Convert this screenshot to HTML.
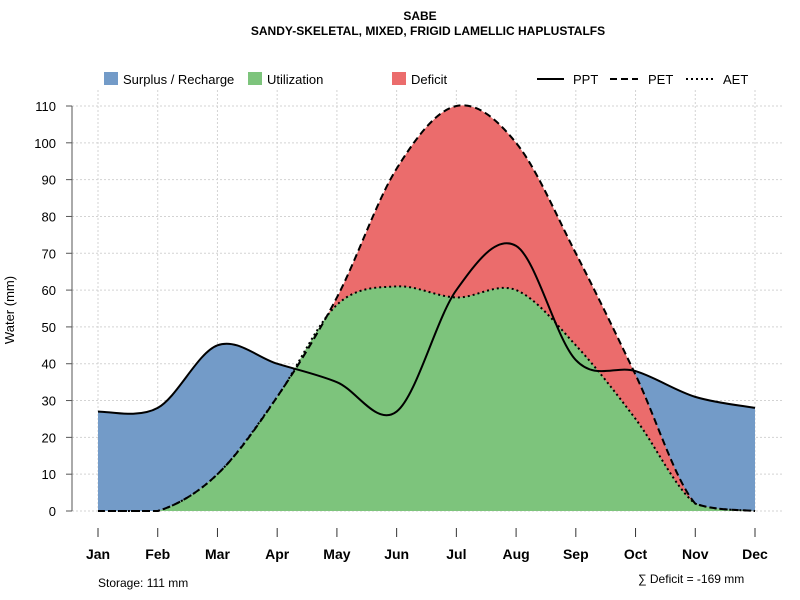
<!DOCTYPE html>
<html><head><meta charset="utf-8"><style>
body{margin:0;background:#fff}svg{display:block;font-family:"Liberation Sans",sans-serif}
</style></head><body>
<svg id="c" width="800" height="600">
<text x="420" y="20" text-anchor="middle" font-size="12" font-weight="bold">SABE</text>
<text x="428" y="35" text-anchor="middle" font-size="12" font-weight="bold">SANDY-SKELETAL, MIXED, FRIGID LAMELLIC HAPLUSTALFS</text>
<g id="grid"></g>
<g id="areas"></g>
<g id="lines"></g>
<g id="axes"></g>
<g font-size="13">
<rect x="104" y="72" width="14" height="13" fill="#739bc8"/>
<text x="123" y="84">Surplus / Recharge</text>
<rect x="248" y="72" width="14" height="13" fill="#7dc47c"/>
<text x="267" y="84">Utilization</text>
<rect x="392" y="72" width="14" height="13" fill="#eb6c6c"/>
<text x="411" y="84">Deficit</text>
<line x1="537" y1="79" x2="564" y2="79" stroke="#000" stroke-width="2"/>
<text x="573" y="84">PPT</text>
<line x1="610" y1="79" x2="638" y2="79" stroke="#000" stroke-width="2" stroke-dasharray="7,4"/>
<text x="648" y="84">PET</text>
<line x1="686" y1="79" x2="714" y2="79" stroke="#000" stroke-width="2" stroke-dasharray="2,3"/>
<text x="723" y="84">AET</text>
</g>
<text x="14" y="310" transform="rotate(-90 14 310)" text-anchor="middle" font-size="13">Water (mm)</text>
<text x="98" y="587" font-size="12">Storage: 111 mm</text>
<text x="638" y="583" font-size="12">∑ Deficit = -169 mm</text>
</svg>
<script>
const months=["Jan","Feb","Mar","Apr","May","Jun","Jul","Aug","Sep","Oct","Nov","Dec"];
const ppt=[27,28,45,40,35,27,60,72,41,38,31,28];
const pet=[0,0,10,31,58,93,110,100,70,37,2,0];
const aet=[0,0,10,31,56,61,58,60,45,25,2,0];
const yTicks=[0,10,20,30,40,50,60,70,80,90,100,110];
const NS="http://www.w3.org/2000/svg";
const X=i=>98+i*(755-98)/11, Y=v=>511-v*(511-106)/110;
function el(p,t,a){const e=document.createElementNS(NS,t);for(const k in a)e.setAttribute(k,a[k]);p.appendChild(e);return e;}
function path(vals){const p=vals.map((v,i)=>[X(i),Y(v)]);const b=Y(0);let d="M"+p[0];for(let i=0;i<p.length-1;i++){const p0=p[i-1]||p[i],p1=p[i],p2=p[i+1],p3=p[i+2]||p2;
const c1y=Math.min(b,p1[1]+(p2[1]-p0[1])/6),c2y=Math.min(b,p2[1]-(p3[1]-p1[1])/6);
d+=" C"+(p1[0]+(p2[0]-p0[0])/6)+","+c1y+" "+(p2[0]-(p3[0]-p1[0])/6)+","+c2y+" "+p2;}return d;}
const g=document.getElementById("grid"),ar=document.getElementById("areas"),ln=document.getElementById("lines"),ax=document.getElementById("axes");
yTicks.forEach(v=>{const l=el(g,"line",{x1:72,x2:782,y1:Y(v),y2:Y(v),stroke:"#d3d3d3","stroke-dasharray":"2,2"});


const t=el(ax,"line",{x1:66,x2:72,y1:Y(v),y2:Y(v),stroke:"#555"});


const tx=el(ax,"text",{x:56,y:Y(v)+5,"text-anchor":"end","font-size":13});tx.textContent=v;

});
el(ax,"line",{x1:72,x2:72,y1:Y(0),y2:Y(110),stroke:"#555"});
months.forEach((m,i)=>{const l=el(g,"line",{x1:X(i),x2:X(i),y1:90,y2:511,stroke:"#d3d3d3","stroke-dasharray":"2,2"});


const t=el(ax,"line",{x1:X(i),x2:X(i),y1:528,y2:537,stroke:"#333"});


const tx=el(ax,"text",{x:X(i),y:559,"text-anchor":"middle","font-size":14,"font-weight":"bold"});tx.textContent=m;

});
const close=" L"+X(11)+","+Y(0)+" L"+X(0)+","+Y(0)+"Z";
[[ppt,"#739bc8","surplus-area"],[pet,"#eb6c6c","deficit-area"],[aet,"#7dc47c","utilization-area"]].forEach(([s,c,n])=>{
const a=el(ar,"path",{d:path(s)+close,fill:c});

});
[[ppt,"none","ppt-line"],[pet,"7,4","pet-line"],[aet,"2,3","aet-line"]].forEach(([s,da,n])=>{
const a=el(ln,"path",{d:path(s),fill:"none",stroke:"#000","stroke-width":2,"stroke-dasharray":da});

});
</script>
</body></html>
